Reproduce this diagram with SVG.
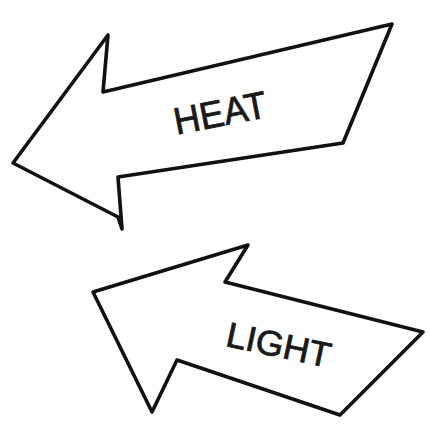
<svg xmlns="http://www.w3.org/2000/svg" width="430" height="439" viewBox="0 0 430 439">
<style>
.arrow{fill:#ffffff;stroke:#111111;stroke-width:3.6;stroke-linejoin:round;stroke-linecap:round}
.lbl{font-family:"Liberation Sans",Arial,sans-serif;fill:#1a1a1a;stroke:#1a1a1a;stroke-width:0.8;text-anchor:middle}
</style>
<rect width="430" height="439" fill="#ffffff"/>
<g id="heat">
<path class="arrow" d="M13,163 L108,35 L103,92 L392,24 L343,143 L118,177 L122,229 L118,217 Z"/>
<text class="lbl" x="220" y="126" font-size="38" textLength="94" lengthAdjust="spacingAndGlyphs" transform="rotate(-11 220 112)">HEAT</text>
</g>
<g id="light">
<path class="arrow" d="M93,292 L248,245 L225,282 L423,332 L340,415 L177,360 L152,412 Z"/>
<text class="lbl" x="279" y="357" font-size="35" textLength="106" lengthAdjust="spacingAndGlyphs" transform="rotate(12 279 344)">LIGHT</text>
</g>
<g id="connectors"></g>
</svg>
